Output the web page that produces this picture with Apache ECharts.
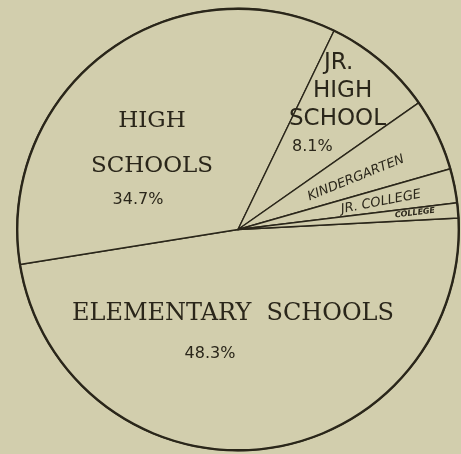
<!DOCTYPE html>
<html>
<head>
<meta charset="utf-8">
<script src="https://cdn.jsdelivr.net/npm/echarts@6/dist/echarts.min.js"></script>
<style>
  html, body { margin: 0; padding: 0; background: #d2cead; }
  #chart { width: 461px; height: 454px; }
</style>
</head>
<body>
<div id="chart"></div>
<script>
// Share of pupils by school type (percent of total enrolment)
const categories = ['ELEMENTARY SCHOOLS', 'HIGH SCHOOLS', 'JR. HIGH SCHOOL', 'KINDERGARTEN', 'JR. COLLEGE', 'COLLEGE'];
const shares = [48.3, 34.7, 8.1, 5.3, 2.5, 1.1];

const INK = '#2a261a';
const PAPER = '#d2cead';
const CENTER = [238, 229.5];
const RADIUS = 221;

// Where each slice's caption sits, and how it is turned
const labelPlacement = [
  { x: 233, y: 292, align: 'center', vAlign: 'top', rotate: 0 },
  { x: 152, y: 98, align: 'center', vAlign: 'top', rotate: 0 },
  { x: 289, y: 49, align: 'left', vAlign: 'top', rotate: 0 },
  { x: 356, y: 178, align: 'center', vAlign: 'middle', rotate: 22 },
  { x: 381, y: 202, align: 'center', vAlign: 'middle', rotate: 11 },
  { x: 415, y: 213, align: 'center', vAlign: 'middle', rotate: 7 }
];

function captionFor(name, value) {
  const pct = value + '%';
  switch (name) {
    case 'ELEMENTARY SCHOOLS':
      return '{big|ELEMENTARY  SCHOOLS}\n{pe|' + pct + '}';
    case 'HIGH SCHOOLS':
      return '{big1|HIGH}\n{big2|SCHOOLS}\n{ph|' + pct + '}';
    case 'JR. HIGH SCHOOL':
      return '{j1|JR.}\n{j2|HIGH}\n{j3|SCHOOL}\n{jp|' + pct + '}';
    case 'KINDERGARTEN':
      return '{k|KINDERGARTEN}';
    case 'JR. COLLEGE':
      return '{jc|JR. COLLEGE}';
    default:
      return '{c|COLLEGE}';
  }
}

const serif = 'DejaVu Serif';
const sans = 'DejaVu Sans';

const chart = echarts.init(document.getElementById('chart'), null, { renderer: 'canvas' });

chart.setOption({
  backgroundColor: PAPER,
  animation: false,
  series: [
    {
      type: 'pie',
      silent: true,
      center: CENTER,
      radius: [0, RADIUS],
      startAngle: 3,
      clockwise: true,
      avoidLabelOverlap: false,
      itemStyle: {
        color: PAPER,
        borderColor: INK,
        borderWidth: 1.4
      },
      label: {
        show: true,
        position: 'inside',
        color: INK,
        formatter: p => captionFor(p.name, p.value),
        rich: {
          big: { fontFamily: serif, fontSize: 24, lineHeight: 44, color: INK },
          big1: { fontFamily: serif, fontSize: 23, lineHeight: 46, color: INK },
          big2: { fontFamily: serif, fontSize: 23, lineHeight: 44, color: INK },
          pe: { fontFamily: sans, fontSize: 16, lineHeight: 36, color: INK, padding: [0, 46, 0, 0] },
          ph: { fontFamily: sans, fontSize: 16, lineHeight: 24, color: INK, padding: [0, 28, 0, 0] },
          j1: { fontFamily: sans, fontSize: 23, lineHeight: 28, color: INK, padding: [0, 0, 0, 35] },
          j2: { fontFamily: sans, fontSize: 23, lineHeight: 28, color: INK, padding: [0, 0, 0, 24] },
          j3: { fontFamily: sans, fontSize: 23, lineHeight: 28, color: INK },
          jp: { fontFamily: sans, fontSize: 16, lineHeight: 28, color: INK, padding: [0, 0, 0, 3] },
          k: { fontFamily: sans, fontSize: 13, fontStyle: 'italic', color: INK },
          jc: { fontFamily: sans, fontSize: 13, fontStyle: 'italic', color: INK },
          c: { fontFamily: sans, fontSize: 8, fontStyle: 'italic', fontWeight: 'bold', color: INK }
        }
      },
      labelLine: { show: false },
      labelLayout: params => {
        const spot = labelPlacement[params.dataIndex];
        return {
          x: spot.x,
          y: spot.y,
          align: spot.align,
          verticalAlign: spot.vAlign,
          rotate: spot.rotate
        };
      },
      data: categories.map((name, i) => ({ name, value: shares[i] }))
    },
    {
      // heavier rim round the whole circle
      type: 'pie',
      silent: true,
      center: CENTER,
      radius: [RADIUS - 1.4, RADIUS + 1.0],
      label: { show: false },
      labelLine: { show: false },
      itemStyle: { color: INK, borderWidth: 0 },
      data: [{ name: 'rim', value: 1 }]
    }
  ]
});
</script>
</body>
</html>
